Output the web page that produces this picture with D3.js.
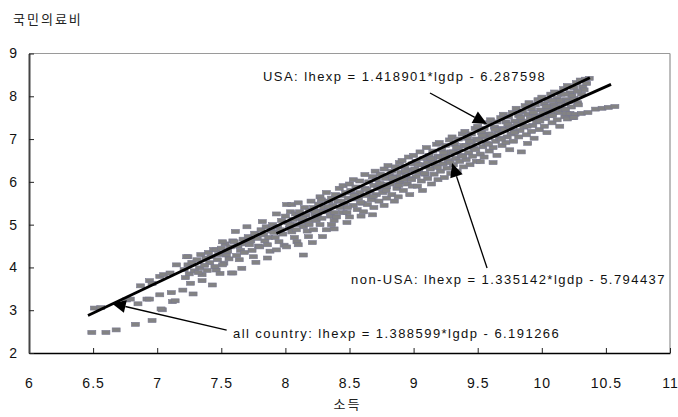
<!DOCTYPE html>
<html>
<head>
<meta charset="utf-8">
<script src="https://cdn.jsdelivr.net/npm/d3@7"></script>
<style>
  body { margin: 0; background: #fff; }
  text { font-family: "Liberation Sans", Arial, sans-serif; }
</style>
</head>
<body>
<svg id="chart" width="678" height="417"></svg>
<script>
// Axis ticks
const xTicks = [6, 6.5, 7, 7.5, 8, 8.5, 9, 9.5, 10, 10.5, 11];
const yTicks = [2, 3, 4, 5, 6, 7, 8, 9];

// Axis titles
const xTitle = "소득";
const yTitle = "국민의료비";

// Fitted equations: lhexp = slope * lgdp + intercept
const equations = [
  { name: "USA",         slope: 1.418901, intercept: -6.287598 },
  { name: "non-USA",     slope: 1.335142, intercept: -5.794437 },
  { name: "all country", slope: 1.388599, intercept: -6.191266 }
];

// Fitted lines that are drawn, with their lgdp span
const fitLines = [
  { name: "USA",     from: 6.46, to: 10.375 },
  { name: "non-USA", from: 7.93, to: 10.54 }
];

// Callouts: text anchor and arrow (start -> tip), in data units
const callouts = [
  { name: "USA",         textAt: [7.825, 8.364], arrowFrom: [9.128, 8.076], arrowTo: [9.573, 7.352] },
  { name: "non-USA",     textAt: [8.512, 3.624], arrowFrom: [9.573, 3.986], arrowTo: [9.300, 6.440] },
  { name: "all country", textAt: [7.591, 2.350], arrowFrom: [7.542, 2.537], arrowTo: [6.645, 3.161] }
];

// Observations: [lgdp, lhexp]
const observations = [
  [6.49,2.48],[6.60,2.48],[6.68,2.54],[6.83,2.67],[6.96,2.76],[7.04,3.01],[6.51,3.05],[6.56,3.06],
  [6.76,3.24],[6.79,3.26],[6.85,3.15],[6.92,3.26],[6.94,3.26],[7.02,3.36],[7.03,3.03],[7.11,3.41],
  [7.12,3.20],[7.14,3.22],[7.20,3.47],[7.28,3.38],[6.87,3.57],[6.94,3.69],[6.96,3.63],[7.02,3.79],
  [7.05,3.83],[7.10,3.87],[7.15,4.06],[7.26,3.63],[7.35,3.69],[7.43,3.59],[7.35,3.83],[7.46,3.94],
  [7.52,4.10],[7.58,3.87],[7.54,4.29],[7.24,4.25],[7.23,4.25],[7.24,4.06],[7.33,3.99],[7.41,4.11],
  [7.51,4.06],[7.59,3.87],
  [7.21,3.95],[7.25,3.85],[7.27,4.12],[7.29,3.92],[7.22,3.76],
  [7.31,4.18],[7.34,4.30],[7.37,4.05],[7.38,4.22],[7.32,3.88],[7.39,3.93],
  [7.40,4.35],[7.42,4.25],[7.44,4.42],[7.47,4.18],[7.48,4.30],[7.45,4.02],[7.49,3.86],[7.46,4.41],
  [7.50,4.45],[7.53,4.55],[7.55,4.38],[7.57,4.48],[7.56,4.20],[7.59,4.62],[7.51,4.60],
  [7.60,4.60],[7.61,4.84],[7.63,4.50],[7.65,4.40],[7.62,4.28],[7.67,4.66],[7.64,4.18],[7.69,4.55],[7.66,3.98],[7.68,4.35],
  [7.70,4.95],[7.71,4.72],[7.72,4.53],[7.73,4.62],[7.74,4.40],[7.76,4.80],[7.75,4.25],[7.78,4.68],[7.77,4.12],[7.79,4.50],
  [7.80,4.48],[7.82,5.07],[7.81,4.88],[7.83,4.76],[7.84,4.62],[7.86,4.53],[7.85,4.95],[7.87,4.70],[7.88,4.38],[7.89,4.85],[7.86,4.22],
  [7.90,5.00],[7.93,5.25],[7.91,4.82],[7.93,4.41],[7.92,4.70],[7.94,4.95],[7.96,4.88],[7.95,4.60],[7.97,5.10],[7.98,4.78],[7.99,4.52],
  [8.01,5.47],[8.00,5.20],[8.01,4.48],[8.02,5.05],[8.03,4.92],[8.05,4.83],[8.05,5.47],[8.04,5.30],[8.06,5.12],[8.07,4.70],[8.08,5.00],[8.09,4.60],[8.08,5.25],
  [8.10,5.51],[8.10,4.53],[8.11,5.30],[8.12,5.15],[8.14,4.95],[8.14,4.29],[8.13,5.05],[8.15,5.40],[8.16,5.22],[8.17,4.85],[8.18,5.10],[8.19,5.33],[8.18,4.72],
  [8.21,4.58],[8.22,4.88],[8.20,5.55],[8.22,5.40],[8.23,5.25],[8.24,5.10],[8.25,5.18],[8.26,5.48],[8.27,5.65],[8.27,5.00],[8.28,5.32],[8.29,4.72],[8.28,5.58],
  [8.30,5.40],[8.32,5.75],[8.32,4.88],[8.33,5.30],[8.34,5.55],[8.36,5.00],[8.35,5.20],[8.36,5.62],[8.37,5.45],[8.38,5.10],[8.39,5.70],[8.38,4.90],
  [8.40,5.18],[8.41,5.55],[8.42,5.85],[8.43,5.40],[8.44,5.68],[8.45,5.91],[8.45,5.28],[8.46,5.50],[8.47,5.75],[8.48,5.28],[8.48,5.05],[8.49,5.62],
  [8.50,5.18],[8.50,5.95],[8.51,5.80],[8.52,5.60],[8.53,6.05],[8.53,5.45],[8.54,5.70],[8.55,5.88],[8.56,5.35],[8.57,5.62],[8.58,5.75],[8.58,6.02],[8.59,5.20],
  [8.60,5.50],[8.61,5.30],[8.62,6.17],[8.62,5.85],[8.63,5.68],[8.64,5.47],[8.65,6.00],[8.66,5.78],[8.67,5.58],[8.68,5.23],[8.68,6.12],[8.69,5.92],[8.69,5.40],
  [8.70,6.25],[8.71,5.70],[8.71,6.05],[8.72,5.85],[8.73,5.55],[8.74,6.18],[8.75,5.95],[8.76,5.75],[8.77,6.30],[8.77,5.45],[8.78,6.08],[8.79,5.62],[8.79,5.88],
  [8.80,6.38],[8.81,6.15],[8.82,5.95],[8.83,5.70],[8.83,6.25],[8.84,6.05],[8.85,5.55],[8.86,6.35],[8.87,5.85],[8.87,6.12],[8.88,5.65],[8.89,6.45],[8.89,6.00],
  [8.90,6.22],[8.91,6.50],[8.92,6.05],[8.92,5.80],[8.93,6.35],[8.94,6.15],[8.95,5.95],[8.96,6.58],[8.96,6.28],[8.97,5.70],[8.98,6.08],[8.99,6.42],[8.99,5.90],
  [9.00,6.62],[9.01,6.30],[9.02,6.12],[9.02,6.48],[9.03,5.90],[9.04,6.22],[9.05,6.70],[9.06,6.40],[9.06,6.02],[9.07,5.80],[9.08,6.55],[9.09,6.18],[9.09,6.35],
  [9.10,6.80],[9.11,6.45],[9.11,6.08],[9.12,6.62],[9.13,6.30],[9.14,5.95],[9.15,6.72],[9.15,6.50],[9.16,6.18],[9.17,6.38],[9.18,6.88],[9.19,6.05],[9.19,6.60],
  [9.20,6.92],[9.21,6.58],[9.21,6.25],[9.22,6.75],[9.23,6.42],[9.24,6.10],[9.25,6.85],[9.25,6.62],[9.26,6.32],[9.27,6.50],[9.28,6.98],[9.29,6.20],[9.29,6.70],
  [9.30,7.05],[9.31,6.70],[9.31,6.40],[9.32,6.88],[9.33,6.55],[9.34,6.25],[9.35,7.00],[9.35,6.78],[9.36,6.48],[9.37,6.62],[9.38,7.12],[9.39,6.35],[9.39,6.85],
  [9.40,7.18],[9.41,6.85],[9.41,6.52],[9.42,7.02],[9.43,6.68],[9.44,6.40],[9.45,7.12],[9.45,6.92],[9.46,6.60],[9.47,6.78],[9.48,7.25],[9.49,6.48],[9.49,7.00],
  [9.50,7.30],[9.51,6.98],[9.52,6.47],[9.52,6.65],[9.53,7.15],[9.54,6.82],[9.55,7.25],[9.55,6.58],[9.56,7.05],[9.57,6.90],[9.58,7.38],[9.59,6.72],[9.59,7.12],
  [9.60,7.45],[9.61,7.10],[9.62,6.45],[9.62,6.80],[9.63,7.28],[9.64,6.95],[9.65,7.40],[9.65,6.62],[9.66,7.18],[9.67,7.02],[9.68,7.50],[9.69,6.85],[9.69,7.25],
  [9.70,7.58],[9.71,7.22],[9.72,6.92],[9.72,7.40],[9.73,7.05],[9.74,7.52],[9.75,6.75],[9.75,7.30],[9.76,7.12],[9.77,7.62],[9.78,6.95],[9.79,7.42],[9.79,7.18],
  [9.80,7.72],[9.81,7.35],[9.82,7.05],[9.82,7.55],[9.83,7.20],[9.84,6.70],[9.85,7.65],[9.85,7.42],[9.86,7.28],[9.87,7.78],[9.88,7.10],[9.89,7.58],[9.89,6.90],
  [9.90,7.85],[9.91,7.48],[9.92,7.18],[9.92,7.70],[9.93,7.32],[9.94,7.02],[9.95,7.80],[9.95,7.55],[9.96,7.40],[9.97,7.92],[9.98,7.22],[9.99,7.68],[9.99,7.50],
  [10.00,7.98],[10.01,7.62],[10.02,7.30],[10.02,7.82],[10.03,7.48],[10.04,7.15],[10.05,7.92],[10.05,7.70],[10.06,7.55],[10.07,8.05],[10.08,7.38],[10.09,7.80],[10.09,7.62],
  [10.10,8.10],[10.11,7.75],[10.12,7.45],[10.12,7.95],[10.13,7.62],[10.14,7.30],[10.15,8.05],[10.15,7.85],[10.16,7.70],[10.17,8.18],[10.18,7.52],[10.19,7.92],[10.19,7.60],
  [10.20,8.25],[10.21,7.88],[10.22,7.60],[10.22,8.08],[10.23,7.75],[10.24,7.50],[10.25,8.20],[10.25,7.95],[10.26,7.58],[10.27,8.32],[10.28,7.85],
  [10.30,8.38],[10.31,8.05],[10.32,8.22],[10.34,8.40],[10.35,8.30],[10.37,8.42],
  [10.20,7.47],[10.25,7.50],[10.31,7.60],[10.36,7.62],[10.42,7.70],[10.47,7.72],[10.52,7.74],[10.57,7.76],
  [8.035,5.00],[8.085,4.88],[8.135,5.15],[8.185,5.00],[8.235,5.30],[8.285,5.15],[8.335,5.42],[8.385,5.28],
  [8.435,5.55],[8.485,5.40],[8.535,5.68],[8.585,5.52],[8.635,5.82],[8.685,5.66],[8.735,5.96],[8.785,5.80],
  [8.835,6.10],[8.885,5.92],[8.935,6.25],[8.985,6.05],[9.035,6.40],[9.085,6.20],[9.135,6.55],[9.185,6.34],
  [9.235,6.68],[9.285,6.45],[9.335,6.80],[9.385,6.60],[9.435,6.95],[9.485,6.75],[9.535,7.08],[9.585,6.88],
  [9.635,7.22],[9.685,7.00],[9.735,7.35],[9.785,7.15],[9.835,7.50],[9.885,7.30],[9.935,7.62],[9.985,7.42],
  [10.035,7.76],[10.085,7.55],[10.135,7.90],[10.185,7.70],[10.235,8.02],[10.285,7.80],[10.33,8.15],
  [10.28,8.12],[10.18,8.05],[10.08,7.90]
];

const svg = d3.select("#chart");
const x = d3.scaleLinear().domain([6, 11]).range([29, 670]);
const y = d3.scaleLinear().domain([2, 9]).range([353, 53.5]);

// Frame: light top and right edges
svg.append("line").attr("x1", x(6)).attr("x2", x(11)).attr("y1", y(9)).attr("y2", y(9))
  .attr("stroke", "#9a9a9a").attr("stroke-width", 1);
svg.append("line").attr("x1", x(11)).attr("x2", x(11)).attr("y1", y(9)).attr("y2", y(2))
  .attr("stroke", "#9a9a9a").attr("stroke-width", 1.3);

// Scatter of observations
svg.append("g").selectAll("rect").data(observations).join("rect")
  .attr("x", d => x(d[0]) - 4)
  .attr("y", d => y(d[1]) - 2)
  .attr("width", 8).attr("height", 4)
  .attr("fill", "#838383")
  .attr("stroke", "#787890").attr("stroke-width", 0.6);

// Axes
const xAxis = d3.axisBottom(x).tickValues(xTicks).tickSizeInner(-5).tickSizeOuter(0)
  .tickPadding(25).tickFormat(d3.format("~g"));
const gx = svg.append("g").attr("transform", `translate(0,${y(2)})`).call(xAxis);
gx.select(".domain").attr("stroke", "#000").attr("stroke-width", 1.6);
gx.selectAll(".tick line").attr("stroke", "#222");
gx.selectAll(".tick text").attr("font-size", 14).attr("fill", "#111")
  .attr("letter-spacing", "1px").style("font-family", "'Liberation Sans', Arial, sans-serif");

const yAxis = d3.axisLeft(y).tickValues(yTicks).tickSizeInner(-5).tickSizeOuter(0)
  .tickPadding(12).tickFormat(d3.format("d"));
const gy = svg.append("g").attr("transform", `translate(${x(6)},0)`).call(yAxis);
gy.select(".domain").attr("stroke", "#444").attr("stroke-width", 2);
gy.selectAll(".tick line").attr("stroke", "#222");
gy.selectAll(".tick text").attr("font-size", 14).attr("fill", "#111")
  .style("font-family", "'Liberation Sans', Arial, sans-serif");

// Fitted lines
const eqByName = Object.fromEntries(equations.map(e => [e.name, e]));
svg.append("g").selectAll("line").data(fitLines).join("line")
  .attr("x1", d => x(d.from))
  .attr("y1", d => y(eqByName[d.name].slope * d.from + eqByName[d.name].intercept))
  .attr("x2", d => x(d.to))
  .attr("y2", d => y(eqByName[d.name].slope * d.to + eqByName[d.name].intercept))
  .attr("stroke", "#000").attr("stroke-width", 2.8).attr("stroke-linecap", "butt");

// Callout arrows and equation texts
const fmt = e => `${e.name}: lhexp = ${e.slope}*lgdp - ${Math.abs(e.intercept)}`;
const cg = svg.append("g");
callouts.forEach(c => {
  const x0 = x(c.arrowFrom[0]), y0 = y(c.arrowFrom[1]);
  const x1 = x(c.arrowTo[0]),   y1 = y(c.arrowTo[1]);
  const ang = Math.atan2(y1 - y0, x1 - x0);
  const len = 14, half = 6.5;
  const bx = x1 - len * Math.cos(ang), by = y1 - len * Math.sin(ang);
  cg.append("line").attr("x1", x0).attr("y1", y0).attr("x2", bx).attr("y2", by)
    .attr("stroke", "#000").attr("stroke-width", 1.3);
  const pts = [
    [x1, y1],
    [bx + half * Math.sin(ang), by - half * Math.cos(ang)],
    [bx - half * Math.sin(ang), by + half * Math.cos(ang)]
  ];
  cg.append("path").attr("d", d3.line()(pts) + "Z").attr("fill", "#000");
  cg.append("text")
    .attr("x", x(c.textAt[0])).attr("y", y(c.textAt[1]))
    .attr("font-size", 13).attr("letter-spacing", "1.45px").attr("fill", "#111")
    .text(fmt(eqByName[c.name]));
});

// Axis titles
svg.append("text").attr("x", 13).attr("y", 24)
  .style("font-family", "'Noto Sans CJK KR', sans-serif")
  .attr("font-size", 13).attr("letter-spacing", "2px").attr("fill", "#222")
  .text(yTitle);
svg.append("text").attr("x", (x(6) + x(11)) / 2 - 2).attr("y", 409)
  .attr("text-anchor", "middle")
  .style("font-family", "'Noto Sans CJK KR', sans-serif")
  .attr("font-size", 13).attr("letter-spacing", "2px").attr("fill", "#222")
  .text(xTitle);
</script>
</body>
</html>
